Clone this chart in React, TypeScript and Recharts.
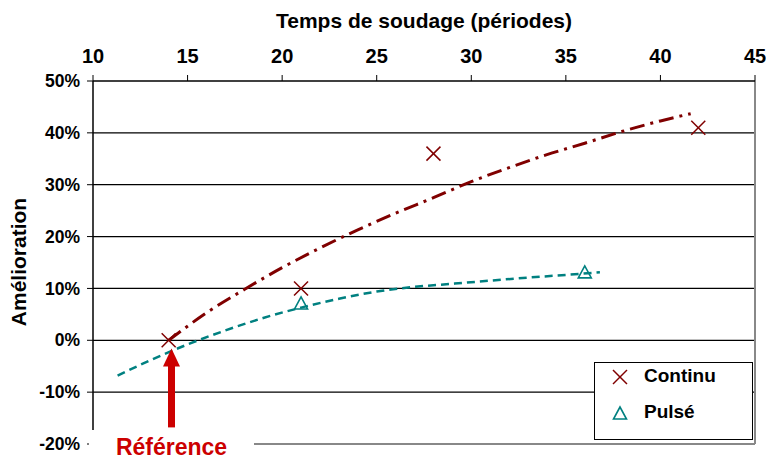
import React from 'react';
import {
  ComposedChart,
  Line,
  Scatter,
  XAxis,
  YAxis,
  CartesianGrid,
  ReferenceLine,
  ReferenceDot,
} from 'recharts';

// Measured points (x = périodes, y = amélioration en %)
const CONTINU_X = [14, 21, 28, 42];
const CONTINU_Y = [0, 10, 36, 41];
const PULSE_X = [21, 36];
const PULSE_Y = [7, 13];

// Trend curves
const CONTINU_TREND_X = [14, 16, 18, 20, 22, 24, 26, 28, 30, 32, 34, 36, 38, 40, 41.6];
const CONTINU_TREND_Y = [0, 5.3, 9.8, 14, 17.8, 21.3, 24.5, 27.5, 30.6, 33.3, 35.8, 38, 40.3, 42.3, 43.7];
const PULSE_TREND_X = [11.3, 13, 15, 17, 19, 21, 23, 25, 27, 29, 31, 33, 35, 36.8];
const PULSE_TREND_Y = [-6.8, -3.9, -0.8, 1.9, 4.3, 6.3, 8.0, 9.4, 10.3, 10.9, 11.5, 12.1, 12.6, 13.1];

const X_TICKS = [10, 15, 20, 25, 30, 35, 40, 45];
const Y_TICKS = [-20, -10, 0, 10, 20, 30, 40, 50];

const TITLE = 'Temps de soudage (périodes)';
const Y_LABEL = 'Amélioration';
const SERIES_NAMES = ['Continu', 'Pulsé'];
const REF_LABEL = 'Référence';

const toPoints = (xs: number[], ys: number[]) => xs.map((x, i) => ({ x, y: ys[i] }));

const continuData = toPoints(CONTINU_X, CONTINU_Y);
const pulseData = toPoints(PULSE_X, PULSE_Y);
const continuTrend = toPoints(CONTINU_TREND_X, CONTINU_TREND_Y);
const pulseTrend = toPoints(PULSE_TREND_X, PULSE_TREND_Y);

const RED = '#800000';
const TEAL = '#008080';
const FONT = '"Liberation Sans", Arial, sans-serif';

const CrossShape = (props: any) => {
  const { cx, cy } = props;
  const r = 7;
  return (
    <g stroke={RED} strokeWidth={1.5}>
      <line x1={cx - r} y1={cy - r} x2={cx + r} y2={cy + r} />
      <line x1={cx - r} y1={cy + r} x2={cx + r} y2={cy - r} />
    </g>
  );
};

const TriangleShape = (props: any) => {
  const { cx, cy } = props;
  return (
    <polygon
      points={`${cx},${cy - 7} ${cx - 6.5},${cy + 5} ${cx + 6.5},${cy + 5}`}
      fill="none"
      stroke={TEAL}
      strokeWidth={1.6}
    />
  );
};

const ArrowHead = (props: any) => {
  const { cx, cy } = props;
  return <polygon points={`${cx},${cy} ${cx - 8.5},${cy + 18} ${cx + 8.5},${cy + 18}`} fill="#cc0000" />;
};

const LegendBox = () => (
  <div
    style={{
      position: 'absolute',
      left: 594,
      top: 362,
      width: 159,
      height: 78,
      border: '1px solid #000',
      boxSizing: 'border-box',
      background: '#fff',
      fontFamily: FONT,
      fontWeight: 'bold',
      fontSize: 19,
    }}
  >
    <svg width={40} height={78} style={{ position: 'absolute', left: 0, top: 0 }}>
      <CrossShape cx={25} cy={14} />
      <TriangleShape cx={25} cy={51} />
    </svg>
    <span style={{ position: 'absolute', left: 49, top: 2 }}>{SERIES_NAMES[0]}</span>
    <span style={{ position: 'absolute', left: 49, top: 38 }}>{SERIES_NAMES[1]}</span>
  </div>
);

export default function App() {
  return (
    <div style={{ position: 'absolute', left: 0, top: 0, width: 766, height: 461, background: '#fff' }}>
      <ComposedChart width={766} height={461} margin={{ top: 30, right: 11, bottom: 17, left: 8 }}>
        <CartesianGrid vertical={false} stroke="#000" strokeWidth={1.2} horizontalValues={[-10, 0, 10, 20, 30, 40]} />
        <XAxis
          type="number"
          dataKey="x"
          orientation="top"
          domain={[10, 45]}
          ticks={X_TICKS}
          height={51}
          axisLine={{ stroke: '#000', strokeWidth: 1.5 }}
          tickLine={{ stroke: '#000' }}
          tickSize={6}
          tickMargin={12}
          tick={{ fontSize: 20, fontWeight: 'bold', fill: '#000', fontFamily: FONT }}
          label={() => (
            <text x={424} y={28} textAnchor="middle" fontSize={21} fontWeight="bold" fontFamily={FONT} fill="#000">
              {TITLE}
            </text>
          )}
        />
        <YAxis
          type="number"
          dataKey="y"
          domain={[-20, 50]}
          ticks={Y_TICKS}
          width={85}
          axisLine={{ stroke: '#000', strokeWidth: 1.5 }}
          tickLine={{ stroke: '#000' }}
          tickSize={6}
          tickMargin={7}
          tickFormatter={(v: number) => `${v}%`}
          tick={{ fontSize: 17.5, fontWeight: 'bold', fill: '#000', fontFamily: FONT }}
          label={() => (
            <text
              x={26}
              y={262}
              transform="rotate(-90 26 262)"
              textAnchor="middle"
              fontSize={21}
              fontWeight="bold"
              fontFamily={FONT}
              fill="#000"
            >
              {Y_LABEL}
            </text>
          )}
        />
        <ReferenceLine x={45} stroke="#888" strokeWidth={2} />
        <ReferenceLine y={-20} stroke="#888" strokeWidth={2} />
        <Line
          data={continuTrend}
          dataKey="y"
          type="monotone"
          stroke={RED}
          strokeWidth={3}
          strokeDasharray="15 6 3 6"
          dot={false}
          activeDot={false}
          isAnimationActive={false}
        />
        <Line
          data={pulseTrend}
          dataKey="y"
          type="monotone"
          stroke={TEAL}
          strokeWidth={2.5}
          strokeDasharray="8 5"
          dot={false}
          activeDot={false}
          isAnimationActive={false}
        />
        <Scatter name={SERIES_NAMES[0]} data={continuData} dataKey="y" shape={CrossShape} isAnimationActive={false} />
        <Scatter name={SERIES_NAMES[1]} data={pulseData} dataKey="y" shape={TriangleShape} isAnimationActive={false} />
        <ReferenceLine
          segment={[
            { x: 14.15, y: -16.8 },
            { x: 14.15, y: -4.6 },
          ]}
          stroke="#cc0000"
          strokeWidth={7}
        />
        <ReferenceDot x={14.15} y={-1.6} r={0} shape={ArrowHead} />
      </ComposedChart>
      <LegendBox />
      <div
        style={{
          position: 'absolute',
          left: 89,
          top: 430,
          width: 165,
          height: 31,
          background: '#fff',
          color: '#cc0000',
          fontFamily: FONT,
          fontWeight: 'bold',
          fontSize: 23,
          textAlign: 'center',
          lineHeight: '34px',
        }}
      >
        {REF_LABEL}
      </div>
    </div>
  );
}
